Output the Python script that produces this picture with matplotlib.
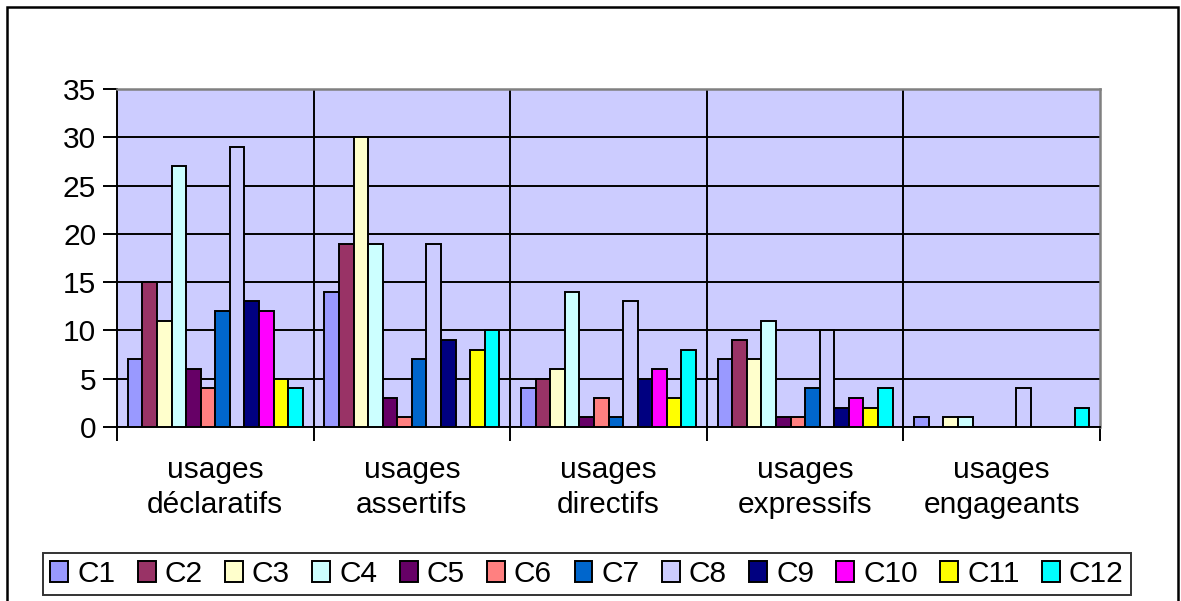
import numpy as np
import matplotlib
matplotlib.use('Agg')
import matplotlib.pyplot as plt
from matplotlib.patches import Rectangle

plt.rcParams['font.family'] = ['Liberation Sans', 'DejaVu Sans']

categories = ['usages\ndéclaratifs', 'usages\nassertifs', 'usages\ndirectifs',
              'usages\nexpressifs', 'usages\nengageants']
series = ['C1', 'C2', 'C3', 'C4', 'C5', 'C6', 'C7', 'C8', 'C9', 'C10', 'C11', 'C12']

declaratifs = [7, 15, 11, 27, 6, 4, 12, 29, 13, 12, 5, 4]
assertifs = [14, 19, 30, 19, 3, 1, 7, 19, 9, 0, 8, 10]
directifs = [4, 5, 6, 14, 1, 3, 1, 13, 5, 6, 3, 8]
expressifs = [7, 9, 7, 11, 1, 1, 4, 10, 2, 3, 2, 4]
engageants = [1, 0, 1, 1, 0, 0, 0, 4, 0, 0, 0, 2]

colors = ['#9999FF', '#993366', '#FFFFCC', '#CCFFFF', '#660066', '#FF8080',
          '#0066CC', '#CCCCFF', '#000080', '#FF00FF', '#FFFF00', '#00FFFF']

values = np.array([declaratifs, assertifs, directifs, expressifs, engageants])

fig = plt.figure(figsize=(11.81, 6.01), dpi=100)
ax = fig.add_axes([117/1181, 1-427/601, (1100-117)/1181, (427-89)/601])
ax.set_facecolor('#CCCCFF')

x = np.arange(len(categories))
bw = 0.891 / len(series)
for i, name in enumerate(series):
    pos = x - 0.891/2 + bw*(i + 0.5)
    ax.bar(pos, values[:, i], width=bw, color=colors[i], edgecolor='black',
           linewidth=1.4, label=name, zorder=3)

ax.set_xlim(-0.5, len(categories) - 0.5)
ax.set_ylim(0, 35)
ax.set_yticks(range(0, 36, 5))
ax.yaxis.grid(True, color='black', linewidth=1.4, zorder=1)
for b in np.arange(0.5, len(categories) - 0.5):
    ax.axvline(b, color='black', linewidth=1.4, zorder=1)

ax.set_xticks(np.arange(-0.5, len(categories)))
ax.set_xticklabels([])
ax.set_xticks(x, minor=True)
ax.set_xticklabels(categories, minor=True, fontsize=21.5, linespacing=1.31)
ax.tick_params(axis='x', which='major', length=10, width=1.4, color='black')
ax.tick_params(axis='x', which='minor', length=0, pad=21)
ax.tick_params(axis='y', labelsize=21.5, length=10, width=1.4, pad=5)

ax.spines['left'].set_color('black')
ax.spines['bottom'].set_color('black')
ax.spines['left'].set_linewidth(1.4)
ax.spines['bottom'].set_linewidth(1.4)
ax.spines['top'].set_color('#808080')
ax.spines['right'].set_color('#808080')
ax.spines['top'].set_linewidth(1.8)
ax.spines['right'].set_linewidth(1.8)

leg = fig.legend(loc='center', bbox_to_anchor=(587/1181, 1-574/601), ncol=12,
                 fontsize=21.5, frameon=True, fancybox=False, edgecolor='black',
                 handlelength=0.6, handleheight=0.7, handletextpad=0.3,
                 columnspacing=0.75, borderpad=0.25, borderaxespad=0)
leg.get_frame().set_linewidth(1.4)

fig.patches.append(Rectangle((7/1181, -0.05), 1171/1181, 1.05 - 7/601,
                             transform=fig.transFigure, fill=False,
                             edgecolor='black', linewidth=1.8))

plt.savefig('out.png', dpi=100)
